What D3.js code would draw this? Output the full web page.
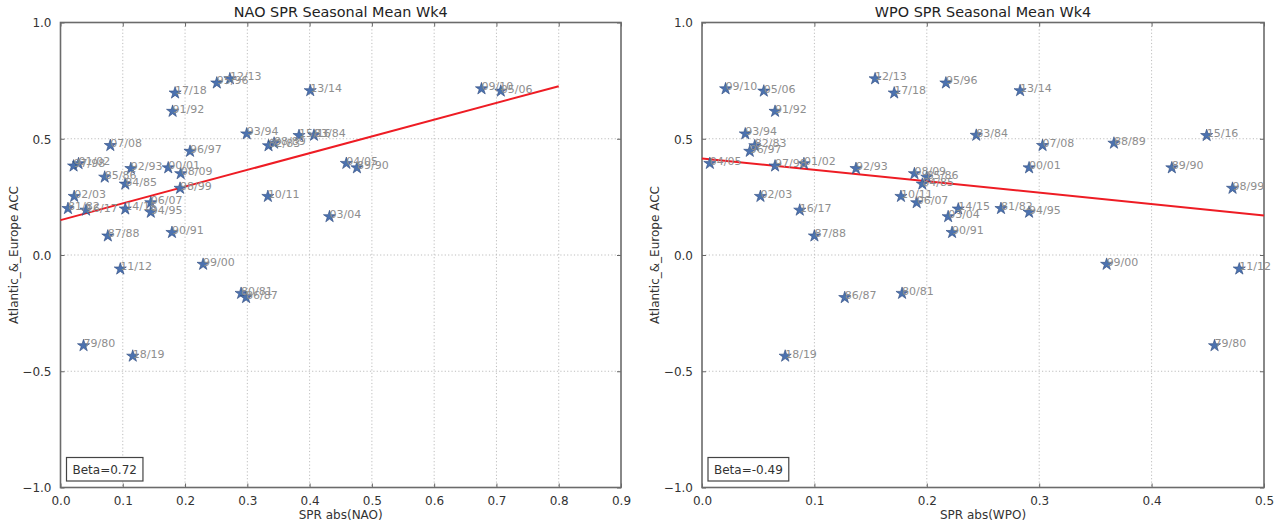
<!DOCTYPE html>
<html>
<head>
<meta charset="utf-8">
<script src="https://cdn.jsdelivr.net/npm/d3@7"></script>
<style>
  body { margin: 0; background: #fff; }
  svg { display: block; font-family: "DejaVu Sans", sans-serif; }
</style>
</head>
<body>
<div id="chart"></div>
<script>
"use strict"

// winter seasons, one ACC value per season (shared by both panels)
const seasons = ["79/80","80/81","81/82","82/83","83/84","84/85","85/86","86/87","87/88","88/89",
                 "89/90","90/91","91/92","92/93","93/94","94/95","95/96","96/97","97/98","98/99",
                 "99/00","00/01","01/02","02/03","03/04","04/05","05/06","06/07","07/08","08/09",
                 "09/10","10/11","11/12","12/13","13/14","14/15","15/16","16/17","17/18","18/19"];

const acc = [-0.39, -0.165, 0.20, 0.47, 0.515, 0.305, 0.335, -0.183, 0.082, 0.481,
             0.375, 0.097, 0.618, 0.372, 0.521, 0.184, 0.74, 0.446, 0.383, 0.287,
             -0.04, 0.375, 0.393, 0.252, 0.165, 0.394, 0.705, 0.225, 0.471, 0.35,
             0.715, 0.252, -0.06, 0.758, 0.707, 0.198, 0.514, 0.193, 0.697, -0.435];

const naoSpr = [0.037, 0.290, 0.012, 0.334, 0.407, 0.104, 0.071, 0.298, 0.076, 0.343,
                0.476, 0.179, 0.180, 0.113, 0.299, 0.145, 0.251, 0.208, 0.021, 0.192,
                0.229, 0.173, 0.029, 0.022, 0.432, 0.459, 0.707, 0.145, 0.080, 0.193,
                0.676, 0.333, 0.096, 0.272, 0.401, 0.104, 0.383, 0.041, 0.184, 0.116];

const wpoSpr = [0.456, 0.178, 0.266, 0.047, 0.244, 0.196, 0.200, 0.127, 0.100, 0.3665,
                0.418, 0.2225, 0.065, 0.137, 0.0385, 0.291, 0.217, 0.0425, 0.065, 0.472,
                0.360, 0.291, 0.0907, 0.052, 0.219, 0.007, 0.055, 0.191, 0.303, 0.189,
                0.021, 0.177, 0.478, 0.154, 0.283, 0.228, 0.449, 0.087, 0.171, 0.074];

const naoTicks = [0, 0.1, 0.2, 0.3, 0.4, 0.5, 0.6, 0.7, 0.8, 0.9];
const wpoTicks = [0, 0.1, 0.2, 0.3, 0.4, 0.5];
const accTicks = [-1, -0.5, 0, 0.5, 1];

// regression line: intercept, slope (beta), x range of the drawn line
const naoFit = [0.15, 0.72, 0, 0.8];
const wpoFit = [0.415, -0.49, 0, 0.5];

const titles = ["NAO SPR Seasonal Mean Wk4", "WPO SPR Seasonal Mean Wk4"];
const xLabels = ["SPR abs(NAO)", "SPR abs(WPO)"];
const yLabel = "Atlantic_&_Europe ACC";

const W = 1284, H = 525;

let svg = d3.select("#chart")
  .append("svg")
    .attr("width", W)
    .attr("height", H);

const panels = [
  {x0: 60.5, x1: 621, xs: naoSpr, ticks: naoTicks, fit: naoFit, title: titles[0], xLabel: xLabels[0], yLabX: 14},
  {x0: 702, x1: 1264, xs: wpoSpr, ticks: wpoTicks, fit: wpoFit, title: titles[1], xLabel: xLabels[1], yLabX: 655}
];
const plotTop = 22.5, plotBottom = 487.5;

panels.forEach(p => drawPanel(p));

function drawPanel(p) {
  const x = d3.scaleLinear()
    .domain([p.ticks[0], p.ticks[p.ticks.length - 1]])
    .range([p.x0, p.x1]);
  const y = d3.scaleLinear()
    .domain([-1, 1])
    .range([plotBottom, plotTop]);

  const g = svg.append("g");
  const fmt = d3.format(".1f");

  // grid
  g.append("g")
    .selectAll("line")
    .data(p.ticks.slice(1, -1))
    .join("line")
      .attr("x1", d => x(d)).attr("x2", d => x(d))
      .attr("y1", plotTop).attr("y2", plotBottom)
      .attr("stroke", "#bdbdbd")
      .attr("stroke-dasharray", "1.2,2.2");
  g.append("g")
    .selectAll("line")
    .data(accTicks.slice(1, -1))
    .join("line")
      .attr("x1", p.x0).attr("x2", p.x1)
      .attr("y1", d => y(d)).attr("y2", d => y(d))
      .attr("stroke", "#bdbdbd")
      .attr("stroke-dasharray", "1.2,2.2");

  // axes (ticks pointing inward, classic style)
  const axB = g.append("g")
    .attr("transform", "translate(0," + plotBottom + ")")
    .call(d3.axisBottom(x).tickValues(p.ticks).tickFormat(fmt).tickSizeInner(-4).tickSizeOuter(0).tickPadding(9));
  const axT = g.append("g")
    .attr("transform", "translate(0," + plotTop + ")")
    .call(d3.axisTop(x).tickValues(p.ticks).tickFormat("").tickSizeInner(-4).tickSizeOuter(0));
  const axL = g.append("g")
    .attr("transform", "translate(" + p.x0 + ",0)")
    .call(d3.axisLeft(y).tickValues(accTicks).tickFormat(fmt).tickSizeInner(-4).tickSizeOuter(0).tickPadding(9));
  const axR = g.append("g")
    .attr("transform", "translate(" + p.x1 + ",0)")
    .call(d3.axisRight(y).tickValues(accTicks).tickFormat("").tickSizeInner(-4).tickSizeOuter(0));

  [axB, axT, axL, axR].forEach(a => {
    a.select(".domain").remove();
    a.selectAll(".tick line").attr("stroke", "#666").attr("stroke-width", 1);
    a.selectAll(".tick text")
      .attr("fill", "#333")
      .style("font-family", "DejaVu Sans")
      .style("font-size", "12px");
  });
  axL.selectAll(".tick text").attr("dy", "0.36em");

  // frame
  g.append("rect")
    .attr("x", p.x0).attr("y", plotTop)
    .attr("width", p.x1 - p.x0).attr("height", plotBottom - plotTop)
    .attr("fill", "none")
    .attr("stroke", "#6b6b6b")
    .attr("stroke-width", 1.6);

  // regression line
  const fit = p.fit;
  g.append("line")
    .attr("x1", x(fit[2])).attr("y1", y(fit[0] + fit[1] * fit[2]))
    .attr("x2", x(fit[3])).attr("y2", y(fit[0] + fit[1] * fit[3]))
    .attr("stroke", "#ee1c24")
    .attr("stroke-width", 2);

  // points
  const pts = seasons.map((s, i) => ({name: s, x: p.xs[i], y: acc[i]}));
  const star = d3.symbol(d3.symbolStar, 46);

  g.append("g")
    .selectAll("path")
    .data(pts)
    .join("path")
      .attr("d", star)
      .attr("transform", d => "translate(" + x(d.x) + "," + y(d.y) + ")")
      .attr("fill", "#4C72B0")
      .attr("stroke", "#2e4a7d")
      .attr("stroke-width", 0.6);

  g.append("g")
    .selectAll("text")
    .data(pts)
    .join("text")
      .attr("x", d => x(d.x))
      .attr("y", d => y(d.y) + 1.5)
      .attr("fill", "#8e8e8e")
      .style("font-size", "11px")
      .text(d => d.name);

  // beta box
  const bx = p.x0 + 6, by = plotBottom - 30;
  const box = g.append("rect")
    .attr("x", bx).attr("y", by)
    .attr("height", 23.5)
    .attr("fill", "#fff")
    .attr("stroke", "#444")
    .attr("stroke-width", 1.2);
  const bt = g.append("text")
    .attr("x", bx + 6)
    .attr("y", by + 16)
    .attr("fill", "#333")
    .style("font-size", "12px")
    .text("Beta=" + d3.format(".2f")(fit[1]).replace("\u2212", "-"));
  box.attr("width", bt.node().getComputedTextLength() + 12);

  // titles
  g.append("text")
    .attr("x", (p.x0 + p.x1) / 2)
    .attr("y", 17)
    .attr("text-anchor", "middle")
    .attr("fill", "#222")
    .style("font-size", "14.4px")
    .text(p.title);

  g.append("text")
    .attr("x", (p.x0 + p.x1) / 2)
    .attr("y", 519)
    .attr("text-anchor", "middle")
    .attr("fill", "#333")
    .style("font-size", "12px")
    .text(p.xLabel);

  g.append("text")
    .attr("transform", "translate(" + p.yLabX + "," + ((plotTop + plotBottom) / 2) + ") rotate(-90)")
    .attr("text-anchor", "middle")
    .attr("dy", "0.35em")
    .attr("fill", "#333")
    .style("font-size", "12px")
    .text(yLabel);
}
</script>
</body>
</html>
